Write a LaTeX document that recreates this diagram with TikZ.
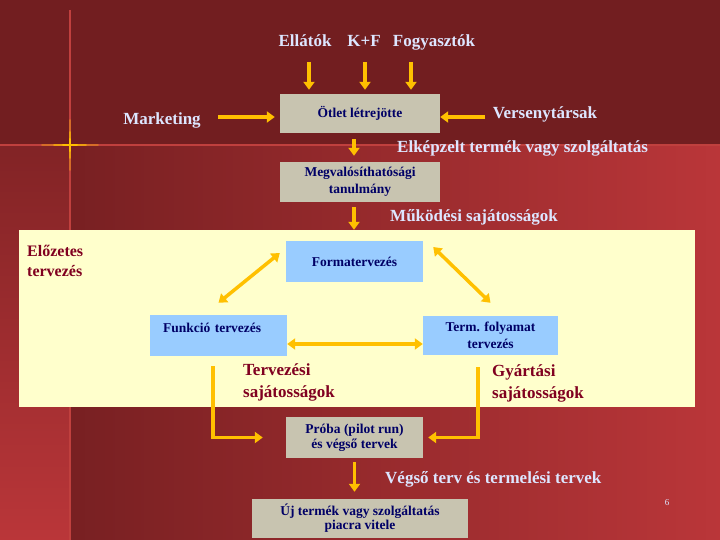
\documentclass[tikz,border=0pt]{standalone}
\usepackage{fontspec}
\setmainfont{Liberation Serif}
\usetikzlibrary{arrows.meta,calc}

\definecolor{bgtop}{RGB}{114,30,32}
\definecolor{bgdark}{RGB}{120,32,34}
\definecolor{bglight}{RGB}{186,54,57}
\definecolor{rulecolor}{RGB}{192,64,62}
\definecolor{arrowcolor}{RGB}{255,192,0}
\definecolor{panelcolor}{RGB}{255,255,204}
\definecolor{boxblue}{RGB}{153,204,255}
\definecolor{boxbeige}{RGB}{200,196,176}
\definecolor{navytext}{RGB}{0,0,102}
\definecolor{lighttext}{RGB}{221,230,255}
\definecolor{maroontext}{RGB}{128,0,32}

\begin{document}
\begin{tikzpicture}[x=1pt, y=-1pt,
    label/.style={font=\bfseries\fontsize{17}{20}\selectfont, text=lighttext, inner sep=0pt, anchor=base},
    sidelabel/.style={font=\bfseries\fontsize{17}{22}\selectfont, text=maroontext, align=left, inner sep=0pt, anchor=north west},
    box/.style={font=\bfseries\fontsize{13.5}{17}\selectfont, text=navytext, align=center, inner sep=2pt, minimum width=137pt, minimum height=41pt},
    beigebox/.style={box, fill=boxbeige},
    bluebox/.style={box, fill=boxblue},
    panel/.style={fill=panelcolor, minimum width=676pt, minimum height=177pt, inner sep=0pt},
    arc/.style={draw=arrowcolor, line width=3.5pt, -{Triangle[width=11pt,length=8pt]}},
    biarc/.style={arc, {Triangle[width=11pt,length=8pt]}-{Triangle[width=11pt,length=8pt]}},
    glow/.style={arrowcolor, line cap=round}
    ]
    \useasboundingbox (0,0) rectangle (720,540);

    % Background
    \fill[bgtop] (0,0) rectangle (720,145);
    \shade[left color=bgdark, right color=bglight] (70,145) rectangle (720,540);
    \shade[top color=bgdark!85!bglight, bottom color=bglight] (0,145) rectangle (70,540);
    \draw[rulecolor, line width=1.5pt] (0,145) -- (720,145);
    \draw[rulecolor, line width=1.5pt] (70,10) -- (70,540);
    % glow where the rules cross
    \draw[glow, line width=1.6pt, opacity=0.35] (42,145) -- (98,145) (70,120) -- (70,170);
    \draw[glow, line width=1.8pt, opacity=0.6] (54,145) -- (86,145) (70,132) -- (70,158);
    \draw[glow, line width=2pt] (63,145) -- (77,145) (70,139) -- (70,151);

    % Panel
    \node[panel] (panel) at (357,318.5) {};

    % Boxes
    \node[beigebox, minimum width=160pt, minimum height=39pt] (otlet) at (360,113.5) {Ötlet létrejötte};
    \node[beigebox, minimum width=160pt, minimum height=40pt] (megval) at (360,182) {Megvalósíthatósági\\tanulmány};
    \node[bluebox] (forma) at (354.5,261.5) {Formatervezés};
    \node[bluebox, align=left, text width=111pt, inner xsep=13pt, text depth=16pt] (funkcio) at (218.5,335.5) {Funkció tervezés};
    \node[bluebox, minimum width=135pt, minimum height=39pt] (term) at (490.5,335.5) {Term. folyamat\\tervezés};
    \node[beigebox, font=\bfseries\fontsize{13.5}{15}\selectfont] (proba) at (354.5,437.5) {Próba (pilot run)\\és végső tervek};
    \node[beigebox, minimum width=216pt, minimum height=39pt, font=\bfseries\fontsize{13.5}{14}\selectfont] (uj) at (360,518.5) {Új termék vagy szolgáltatás\\piacra vitele};

    % Labels
    \node[label] (ellatok) at (305,47) {Ellátók};
    \node[label] (kf) at (364,47) {K+F};
    \node[label] (fogyaszt) at (434,47) {Fogyasztók};
    \node[label] (marketing) at (162,125) {Marketing};
    \node[label] (versenyt) at (545,119) {Versenytársak};
    \node[label, anchor=base west] (elkepzelt) at (397,153) {Elképzelt termék vagy szolgáltatás};
    \node[label, anchor=base west] (mukodesi) at (390,222) {Működési sajátosságok};
    \node[label, anchor=base west] (vegso) at (385,483) {Végső terv és termelési tervek};
    \node[sidelabel, font=\bfseries\fontsize{16}{20}\selectfont] (elozetes) at (27,245) {Előzetes\\tervezés};
    \node[sidelabel] (tervsaj) at (243,363) {Tervezési\\sajátosságok};
    \node[sidelabel] (gyarsaj) at (492,364) {Gyártási\\sajátosságok};
    \node[font=\fontsize{9}{10}\selectfont, text=lighttext] (pagenum) at (667,503) {6};

    % Arrows into the idea box
    \foreach \ax [count=\i] in {309,365,411} {
        \coordinate (src\i) at (\ax,62);
        \draw[arc, shorten >=4pt] (src\i) -- (src\i |- otlet.north);
    }
    \coordinate (mksrc) at (218,117);
    \draw[arc, shorten >=5pt] (mksrc) -- (mksrc -| otlet.west);
    \coordinate (vssrc) at (485,117);
    \draw[arc] (vssrc) -- (vssrc -| otlet.east);

    % Main flow
    \draw[arc, shorten <=6pt, shorten >=6pt] ([xshift=-6pt]otlet.south) -- ([xshift=-6pt]megval.north);
    \draw[arc, shorten <=5pt] ([xshift=-6pt]megval.south) -- ([xshift=-6pt]megval.south |- panel.north);
    \draw[biarc] ([yshift=12pt]funkcio.north) -- ([xshift=-6pt,yshift=8.5pt]forma.west);
    \draw[biarc] ([xshift=10pt,yshift=14.5pt]forma.east) -- ([yshift=13pt]term.north);
    \draw[biarc] ([yshift=-8.5pt]funkcio.east) -- ([yshift=-8.5pt]term.west);
    \draw[arc] ([xshift=-5.5pt,yshift=-10pt]funkcio.south) |- ([xshift=-23pt]proba.west);
    \draw[arc] ([xshift=-12.5pt,yshift=-12pt]term.south) |- ([xshift=5pt]proba.east);
    \draw[arc, shorten <=4pt, shorten >=7pt] (proba.south) -- (proba.south |- uj.north);
\end{tikzpicture}
\end{document}
